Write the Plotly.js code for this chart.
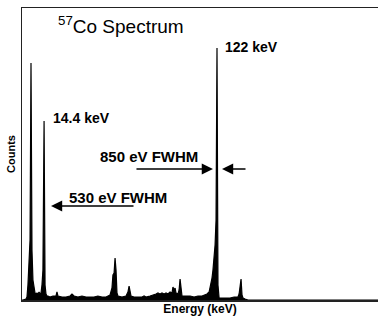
<!DOCTYPE html>
<html>
<head>
<meta charset="utf-8">
<script src="https://cdn.plot.ly/plotly-3.0.1.min.js"></script>
<style>html,body{margin:0;padding:0;background:#fff;}#chart{width:380px;height:322px;}</style>
</head>
<body>
<div id="chart"></div>
<script>
// Energy (keV) of spectrum samples
var energyKeV = [0.62, 1.2, 3.1, 3.7, 4.3, 5.0, 5.6, 6.2, 6.8, 7.4, 8.1, 8.7, 9.3, 9.9, 10.5, 11.2, 11.8, 12.4, 13.0, 13.6, 14.3, 14.9, 15.5, 16.1, 16.7, 18.0, 19.8, 21.7, 22.3, 22.9, 25.4, 27.9, 30.4, 31.6, 32.9, 35.3, 37.8, 40.3, 42.8, 45.3, 47.7, 50.2, 52.7, 53.9, 55.2, 56.4, 57.0, 57.7, 58.3, 58.9, 59.5, 60.1, 62.6, 65.1, 66.3, 67.0, 67.6, 68.2, 70.1, 72.5, 75.0, 76.3, 77.5, 80.0, 82.5, 83.7, 84.9, 86.2, 87.4, 88.7, 89.9, 91.1, 92.4, 93.6, 94.2, 94.9, 95.5, 96.1, 97.3, 98.0, 98.6, 99.2, 99.8, 102.3, 104.8, 107.3, 109.7, 112.2, 114.1, 115.3, 116.6, 117.2, 117.8, 118.4, 119.0, 119.7, 120.3, 120.9, 121.5, 122.1, 122.8, 124.6, 127.1, 129.6, 132.1, 134.5, 135.2, 135.8, 136.4, 137.0, 137.6, 138.9, 140.7, 221.3];
// Counts (arbitrary units)
var counts = [0, 0, 1, 3, 15, 40, 60, 237, 50, 20, 10, 7, 6, 7, 6, 8, 6, 7, 15, 30, 179, 15, 6, 4, 4, 3, 4, 4, 8, 4, 3, 3, 4, 6, 4, 3, 4, 3, 3, 3, 4, 3, 3, 4, 5, 12, 25, 27, 42, 30, 7, 4, 3, 4, 8, 14, 8, 4, 3, 3, 3, 4, 3, 4, 5, 6, 7, 6, 7, 6, 7, 6, 8, 7, 13, 10, 12, 7, 6, 10, 21, 8, 4, 4, 4, 3, 4, 4, 5, 6, 8, 12, 17, 22, 30, 40, 55, 80, 252, 15, 2, 2, 2, 2, 3, 3, 6, 15, 21, 5, 2, 1, 0, 0];

var fontFamily = 'Liberation Sans, Arial, sans-serif';
function f(size) { return {family: fontFamily, color: '#000', size: size}; }

var trace = {
  x: energyKeV, y: counts, type: 'scatter', mode: 'lines',
  fill: 'tozeroy', fillcolor: '#000',
  line: {color: '#000', width: 1.2, shape: 'linear'},
  hoverinfo: 'skip'
};

var layout = {
  width: 380, height: 322,
  margin: {l: 22, r: 2, t: 8, b: 22},
  paper_bgcolor: '#fff', plot_bgcolor: '#fff',
  showlegend: false,
  title: {text: '<sup>57</sup>Co Spectrum', font: f(19), xref: 'container', x: 0.318, xanchor: 'center', yref: 'container', y: 0.919, yanchor: 'middle'},
  xaxis: {range: [0.62, 221.3], showline: true, mirror: true, linecolor: '#222', linewidth: 1.5, showgrid: false, zeroline: false, showticklabels: false, ticks: '',
    title: {text: '<b>Energy (keV)</b>', font: f(12), standoff: 4}, automargin: false, fixedrange: true},
  yaxis: {range: [0, 292], showline: true, mirror: false, linecolor: '#222', linewidth: 1.5, showgrid: false, zeroline: false, showticklabels: false, ticks: '',
    title: {text: '<b>Counts</b>', font: f(11), standoff: 2}, automargin: false, fixedrange: true},
  annotations: [
    {x: 125.2, y: 253, xref: 'x', yref: 'y', text: '<b>122 keV</b>', showarrow: false, xanchor: 'left', yanchor: 'middle', font: f(14)},
    {x: 18.6, y: 182, xref: 'x', yref: 'y', text: '<b>14.4 keV</b>', showarrow: false, xanchor: 'left', yanchor: 'middle', font: f(14)},
    {x: 47.7, y: 144, xref: 'x', yref: 'y', text: '<b>850 eV FWHM</b>', showarrow: false, xanchor: 'left', yanchor: 'middle', font: f(15)},
    {x: 28.5, y: 103, xref: 'x', yref: 'y', text: '<b>530 eV FWHM</b>', showarrow: false, xanchor: 'left', yanchor: 'middle', font: f(15)},
    {x: 119.0, y: 131, xref: 'x', yref: 'y', text: '', showarrow: true, ax: -78, ay: 0, arrowhead: 2, arrowsize: 1.4, arrowwidth: 1.6, arrowcolor: '#000', standoff: 0},
    {x: 124.6, y: 131, xref: 'x', yref: 'y', text: '', showarrow: true, ax: 25, ay: 0, arrowhead: 2, arrowsize: 1.4, arrowwidth: 1.6, arrowcolor: '#000', standoff: 0},
    {x: 18.6, y: 94, xref: 'x', yref: 'y', text: '', showarrow: true, ax: 84, ay: 0, arrowhead: 2, arrowsize: 1.4, arrowwidth: 1.6, arrowcolor: '#000', standoff: 0}
  ]
};

Plotly.newPlot('chart', [trace], layout, {displayModeBar: false, staticPlot: true});
</script>
</body>
</html>
